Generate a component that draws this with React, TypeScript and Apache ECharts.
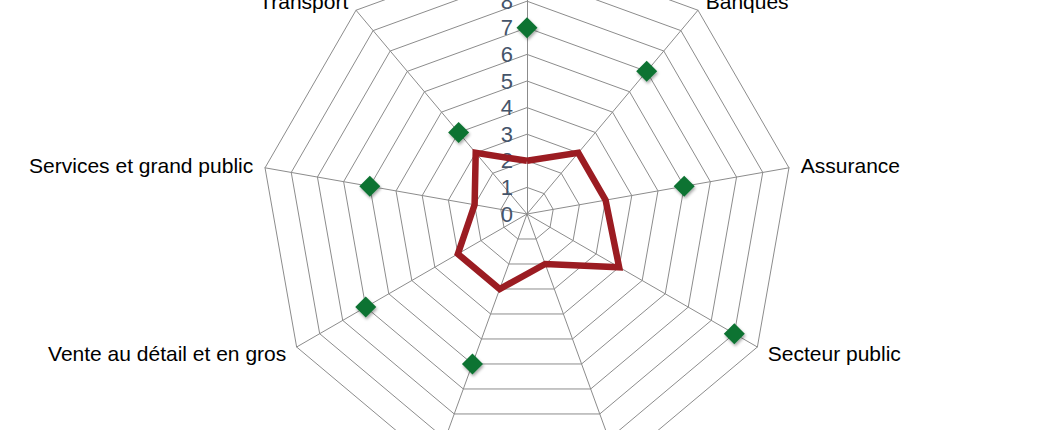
import React, { useEffect, useRef } from "react";
import * as echarts from "echarts";

// Categories listed clockwise starting from the top axis
const categories = [
  "Industrie",
  "Banques",
  "Assurance",
  "Secteur public",
  "Santé",
  "Énergie",
  "Vente au détail et en gros",
  "Services et grand public",
  "Transport",
];
const redValues = [2, 3, 3, 4, 2, 3, 3, 2, 3];
const greenValues = [7, 7, 6, 9, 10, 6, 7, 6, 4];
const axisMin = 0;
const axisMax = 10;
const splitCount = 10;

// ECharts radar lays indicators out counter-clockwise; reorder for clockwise display
const toCcw = <T,>(arr: T[]): T[] => [arr[0], ...arr.slice(1).reverse()];

export default function App() {
  const ref = useRef<HTMLDivElement>(null);
  useEffect(() => {
    if (!ref.current) return;
    const chart = echarts.init(ref.current, null, { renderer: "svg" });
    const lineColor = "#8c8c8c";
    const font = "Liberation Sans, Arial, sans-serif";
    chart.setOption({
      animation: false,
      backgroundColor: "#ffffff",
      radar: {
        center: [527, 214],
        radius: 266,
        startAngle: 90,
        splitNumber: splitCount,
        shape: "polygon",
        axisName: {
          color: "#000000",
          fontSize: 21,
          fontFamily: font,
        },
        nameGap: 12,
        axisLine: { lineStyle: { color: lineColor, width: 1 } },
        splitLine: { lineStyle: { color: lineColor, width: 1 } },
        splitArea: { show: false },
        axisTick: { show: false },
        axisLabel: { show: false },
        indicator: toCcw(categories).map((name, i) =>
          i === 0
            ? {
                name,
                min: axisMin,
                max: axisMax,
                axisLabel: {
                  show: true,
                  color: "#44546a",
                  fontSize: 22,
                  fontFamily: font,
                  margin: 14,
                },
              }
            : { name, min: axisMin, max: axisMax }
        ),
      },
      series: [
        {
          type: "radar",
          symbol: "none",
          data: [
            {
              value: toCcw(redValues),
              lineStyle: { color: "#9b1c22", width: 6.5, join: "miter" },
              itemStyle: { color: "#9b1c22" },
            },
          ],
          z: 3,
        },
        {
          type: "radar",
          symbol: "diamond",
          symbolSize: 21,
          data: [
            {
              value: toCcw(greenValues),
              lineStyle: { width: 0, opacity: 0 },
              itemStyle: {
                color: "#0e7333",
                shadowBlur: 3,
                shadowColor: "rgba(0,0,0,0.35)",
                shadowOffsetX: 1,
                shadowOffsetY: 2,
              },
            },
          ],
          z: 4,
        },
      ],
    });
    return () => chart.dispose();
  }, []);
  return (
    <div
      ref={ref}
      style={{ position: "fixed", left: 0, top: 0, width: 1056, height: 430, background: "#fff" }}
    />
  );
}
